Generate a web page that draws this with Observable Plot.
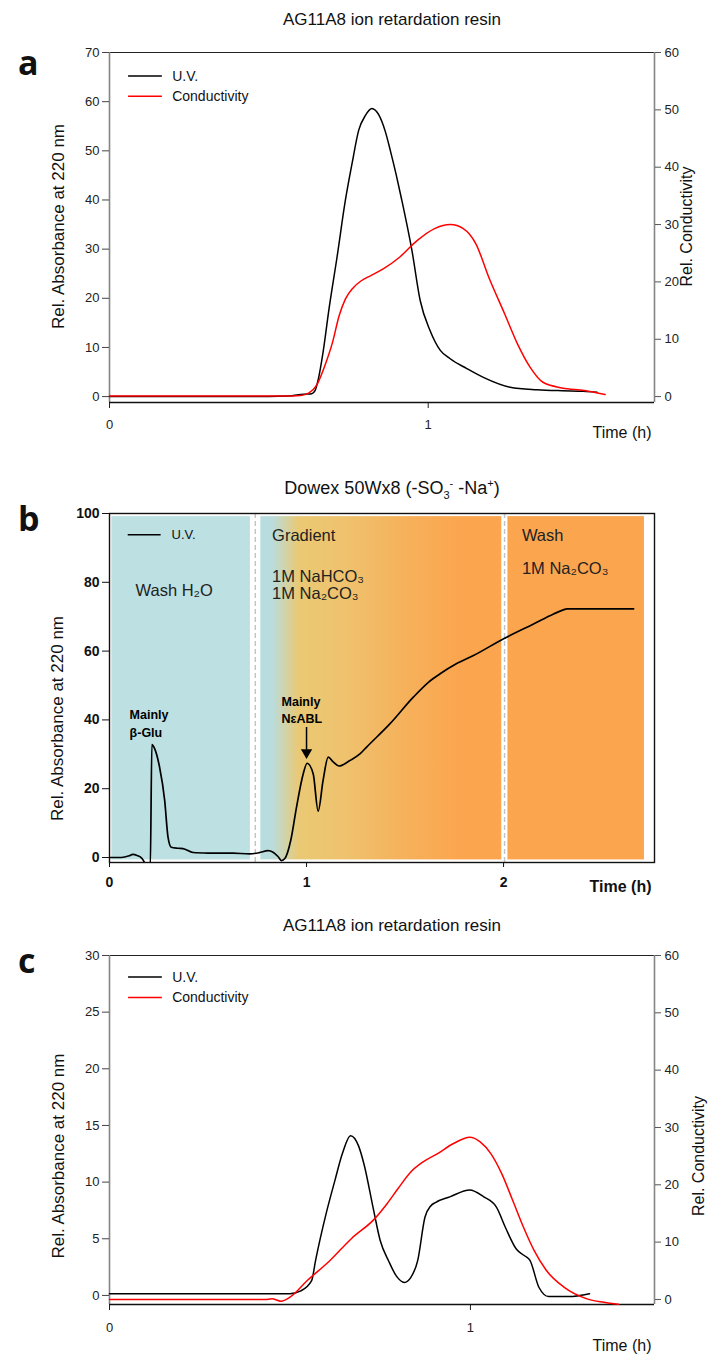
<!DOCTYPE html>
<html><head><meta charset="utf-8">
<script src="https://cdn.jsdelivr.net/npm/d3@7"></script>
<script src="https://cdn.jsdelivr.net/npm/@observablehq/plot@0.6"></script>
<style>
body{margin:0;background:#fff;}
#root{position:relative;width:708px;height:1359px;font-family:"Liberation Sans",Arial,sans-serif;color:#111;overflow:hidden;}
.title{position:absolute;left:392px;transform:translateX(-50%);white-space:nowrap;font-size:17px;line-height:20px;}
.title sub,.title sup{font-size:11px;line-height:0;}
.plab{position:absolute;left:18px;font-family:"Open Sans",sans-serif;font-weight:700;font-size:34px;line-height:34px;}
.panel{position:absolute;left:0;}
</style></head><body>
<div id="root">
  <div class="title" style="top:10px">AG11A8 ion retardation resin</div>
  <div class="plab" style="top:45px">a</div>
  <div id="pa" class="panel" style="top:40px"></div>
  <div class="title" style="top:478px;font-size:18px">Dowex 50Wx8 (-SO<sub>3</sub><sup>-</sup> -Na<sup>+</sup>)</div>
  <div class="plab" style="top:501px">b</div>
  <div id="pb" class="panel" style="top:500px"></div>
  <div class="title" style="top:916px">AG11A8 ion retardation resin</div>
  <div class="plab" style="top:943px">c</div>
  <div id="pc" class="panel" style="top:943px"></div>
</div>
<script>
// ---------- Panel a data ----------
const aTime = [0,0.3,0.5,0.56,0.61,0.635,0.645,0.655,0.67,0.688,0.714,0.74,0.761,0.782,0.803,0.823,0.845,0.865,0.881,0.9,0.917,0.949,0.975,1.006,1.038,1.069,1.121,1.173,1.257,1.341,1.42,1.487,1.53];
const aUV   = [0,0,0,0.1,0.5,0.6,1.2,3.5,9,17.5,28.4,39.9,47.4,54.2,57.2,58.6,57.3,54,50.1,45,40,29.7,19.5,13.4,9.4,7.7,5.7,3.9,1.9,1.4,1.2,1.1,0.9];
const aCondTime = [0,0.3,0.55,0.6,0.625,0.65,0.675,0.7,0.72,0.74,0.765,0.79,0.82,0.86,0.91,0.965,1.02,1.07,1.11,1.15,1.19,1.24,1.28,1.32,1.36,1.42,1.49,1.555];
const aCond     = [0.1,0.1,0.1,0.2,0.6,2,5.3,9.5,14,17,19,20.2,21.1,22.3,24.3,27.2,29.3,30,29.3,26.6,20.8,14.4,9.2,5.1,2.5,1.5,1.05,0.35];
const aLeftTicks = [0,10,20,30,40,50,60,70];
const aRightTicks = [0,10,20,30,40,50,60];
const aTimeTicks = [0,1];

// ---------- Panel b data ----------
const bTime = [0,0.06,0.1,0.118,0.14,0.165,0.178,0.19,0.205,0.207,0.215,0.23,0.254,0.28,0.297,0.313,0.345,0.373,0.424,0.5,0.627,0.712,0.76,0.805,0.83,0.855,0.873,0.89,0.92,0.949,0.983,1.003,1.034,1.059,1.084,1.11,1.135,1.165,1.22,1.271,1.305,1.424,1.542,1.62,1.678,1.76,1.847,2.0,2.152,2.254,2.3,2.322,2.66];
const bUV   = [0,0,0.5,0.9,0.6,-0.3,-1.5,-3,-3,-3,32.8,31.5,26.3,16.6,5.9,3.0,2.7,2.6,1.45,1.3,1.25,1.07,1.4,2.0,1.55,0.3,-0.9,-0.3,5,14.6,24.3,27.4,24.3,13.5,22.4,29.2,27.8,26.6,28.2,30.1,32.1,38.9,46.6,51,53.4,56.3,58.7,63.6,67.9,70.8,71.9,72.3,72.3];
const bYTicks = [0,20,40,60,80,100];
const bTimeTicks = [0,1,2];
const bRegionStart = [0.012,0.768,2.022];
const bRegionEnd   = [0.715,1.991,2.715];
const bRegionFill  = ["#bde0e3","url(#gradB)","#fba64f"];
const bDividers = [0.74,2.005];
const bLabelText = ["Wash H₂O","Gradient","1M NaHCO₃","1M Na₂CO₃","Wash","1M Na₂CO₃"];
const bLabelTime = [0.132,0.825,0.825,0.825,2.093,2.093];
const bLabelValue = [77.6,93.6,81.5,76.6,93.6,83.9];
const bNoteText = ["Mainly","β-Glu","Mainly","NεABL"];
const bNoteTime = [0.102,0.102,0.873,0.873];
const bNoteValue = [41.3,36.1,45.3,40.4];
const bArrowTime = [1.0];
const bArrowFrom = [37.8];
const bArrowTo = [29.2];

// ---------- Panel c data ----------
const cTime = [0,0.3,0.5,0.53,0.56,0.571,0.6,0.625,0.645,0.668,0.69,0.705,0.73,0.75,0.774,0.795,0.817,0.835,0.854,0.874,0.89,0.903,0.943,0.998,1.037,1.072,1.097,1.127,1.15,1.165,1.19,1.217,1.273,1.33];
const cUV   = [0.15,0.15,0.15,0.4,1.3,3.1,7.2,10.2,12.5,14.1,13.2,11.6,7.8,4.85,3.0,1.7,1.15,1.6,3.1,6.9,7.9,8.2,8.7,9.3,8.7,7.8,6.0,4.1,3.5,3.1,0.7,-0.1,-0.1,0.15];
const cCondTime = [0,0.43,0.45,0.475,0.5,0.548,0.611,0.67,0.735,0.769,0.799,0.834,0.869,0.908,0.953,0.998,1.027,1.057,1.087,1.117,1.147,1.176,1.21,1.26,1.323,1.37,1.41];
const cCond     = [0,0,0.1,-0.3,0.4,3.3,6.8,10.6,14.1,16.7,19.3,22.2,24.0,25.4,27.2,28.3,27.5,25.4,21.9,17.3,12.6,8.6,5.1,2.1,0.1,-0.5,-0.85];
const cLeftTicks = [0,5,10,15,20,25,30];
const cRightTicks = [0,10,20,30,40,50,60];
const cTimeTicks = [0,1];

const legendText = ["U.V.","Conductivity"];
const legendColor = ["#000","#ff0000"];

const FONT = "Liberation Sans, Arial, sans-serif";
const zip = (ts, vs, f=(v)=>v) => ts.map((t,i)=>({t, v:f(vs[i])}));

function dualPanel(opts){
  const {time,uv,condTime,cond,toLeft,fromLeft,xmax,ymin,ymax,leftTicks,rightTicks,timeTicks,
         height,marginTop,marginBottom,legendV,yLabelV,rLabelDx,timeDy,tickPad} = opts;
  const legend = legendText.map((s,i)=>({s, v:legendV[i], c:legendColor[i]}));
  return Plot.plot({
    width:708, height, marginTop, marginBottom, marginLeft:109, marginRight:54,
    x:{domain:[0,xmax]}, y:{domain:[ymin,ymax]},
    style:{fontFamily:FONT, fontSize:"13px", color:"#222", background:"transparent", overflow:"visible"},
    marks:[
      Plot.ruleY([ymax],{stroke:"#222",strokeWidth:1}),
      Plot.ruleX([0],{stroke:"#858585",strokeWidth:1.6}),
      Plot.ruleX([xmax],{stroke:"#858585",strokeWidth:1.6}),
      Plot.axisY(leftTicks,{anchor:"left",tickSize:7,tickPadding:3,label:null,stroke:"#444"}),
      Plot.axisY(rightTicks.map(toLeft),{anchor:"right",tickSize:6,tickPadding:4,label:null,stroke:"#555",tickFormat:d=>Math.round(fromLeft(d))}),
      Plot.axisX(timeTicks,{anchor:"bottom",tickSize:6,tickPadding:tickPad,label:null,stroke:"#222",tickFormat:d=>String(d)}),
      Plot.ruleY([ymin],{stroke:"#111",strokeWidth:1.4}),
      Plot.line(zip(time,uv),{x:"t",y:"v",stroke:"#000",strokeWidth:1.5,curve:"monotone-x"}),
      Plot.line(zip(condTime,cond,toLeft),{x:"t",y:"v",stroke:"#ff0000",strokeWidth:1.5,curve:"monotone-x"}),
      Plot.ruleY(legend,{y:"v",x1:xmax*0.035,x2:xmax*0.097,stroke:d=>d.c,strokeWidth:1.5}),
      Plot.text(legend,{y:"v",x:xmax*0.115,text:"s",textAnchor:"start",fontSize:14,fill:"#111"}),
      Plot.text([{s:"Rel. Absorbance at 220 nm",v:yLabelV}],{y:"v",text:"s",frameAnchor:"left",textAnchor:"middle",dx:-51,rotate:-90,fontSize:17,fill:"#111"}),
      Plot.text([{s:"Rel. Conductivity",v:yLabelV}],{y:"v",text:"s",frameAnchor:"right",textAnchor:"middle",dx:rLabelDx,rotate:-90,fontSize:16,fill:"#111"}),
      Plot.text([{s:"Time (h)"}],{text:"s",frameAnchor:"bottom-right",dx:-3,dy:timeDy,textAnchor:"end",fontSize:16,fill:"#111"})
    ]
  });
}

// Panel a
const kA = 70/60;
document.getElementById("pa").append(dualPanel({
  time:aTime, uv:aUV, condTime:aCondTime, cond:aCond,
  toLeft:c=>c*kA, fromLeft:v=>v/kA,
  xmax:1.71, ymin:-1.2, ymax:70, leftTicks:aLeftTicks, rightTicks:aRightTicks, timeTicks:aTimeTicks,
  height:410, marginTop:12, marginBottom:48, legendV:[65.2,61.1], yLabelV:34.6, rLabelDx:32, timeDy:35, tickPad:11
}));

// Panel c
const kC = 30.354/60, oC = -0.354;
document.getElementById("pc").append(dualPanel({
  time:cTime, uv:cUV, condTime:cCondTime, cond:cCond,
  toLeft:c=>c*kC+oC, fromLeft:v=>(v-oC)/kC,
  xmax:1.51, ymin:-0.8, ymax:30, leftTicks:cLeftTicks, rightTicks:cRightTicks, timeTicks:cTimeTicks,
  height:416, marginTop:12, marginBottom:55, legendV:[28.1,26.3], yLabelV:12.3, rLabelDx:44, timeDy:46, tickPad:12
}));

// Panel b
(function(){
  const xmax = 2.766, ymin = -1.45, ymax = 100;
  const regions = bRegionStart.map((s,i)=>({s, e:bRegionEnd[i], f:bRegionFill[i]}));
  const labels = bLabelText.map((s,i)=>({s, t:bLabelTime[i], v:bLabelValue[i]}));
  const notes = bNoteText.map((s,i)=>({s, t:bNoteTime[i], v:bNoteValue[i]}));
  const arrows = bArrowTime.map((t,i)=>({t, a:bArrowFrom[i], b:bArrowTo[i]}));
  const svg = Plot.plot({
    width:708, height:400, marginTop:13, marginBottom:38, marginLeft:109, marginRight:54,
    x:{domain:[0,xmax]}, y:{domain:[ymin,ymax]},
    style:{fontFamily:FONT, fontSize:"14px", color:"#111", background:"transparent", overflow:"visible"},
    marks:[
      ...regions.map(r=>Plot.rect([r],{x1:"s",x2:"e",y1:-0.7,y2:99.1,fill:r.f})),
      Plot.ruleX(bDividers,{stroke:"#c4c4c4",strokeWidth:1.5,strokeDasharray:"5,3"}),
      Plot.frame({stroke:"#111",strokeWidth:1.4}),
      Plot.axisY(bYTicks,{anchor:"left",tickSize:7,tickPadding:3,label:null,fontWeight:"bold",stroke:"#111"}),
      Plot.axisX(bTimeTicks,{anchor:"bottom",tickSize:5,tickPadding:10,label:null,fontWeight:"bold",stroke:"#111",tickFormat:d=>String(d)}),
      Plot.line(zip(bTime,bUV),{x:"t",y:"v",stroke:"#000",strokeWidth:1.7,curve:"monotone-x",clip:true}),
      Plot.ruleY([93.8],{x1:0.095,x2:0.262,stroke:"#000",strokeWidth:1.5}),
      Plot.text([{s:"U.V.",v:93.8}],{y:"v",x:0.315,text:"s",textAnchor:"start",fontSize:13,fill:"#111"}),
      Plot.text(labels,{x:"t",y:"v",text:"s",textAnchor:"start",fontSize:16.5,fill:"#222"}),
      Plot.text(notes,{x:"t",y:"v",text:"s",textAnchor:"start",fontSize:12.5,fontWeight:"bold",fill:"#000"}),
      Plot.ruleX(arrows,{x:"t",y1:"a",y2:d=>d.b+2,stroke:"#000",strokeWidth:1.5}),
      Plot.dot(arrows,{x:"t",y:d=>d.b+1.3,symbol:"triangle",r:4.2,fill:"#000",stroke:null,rotate:180}),
      Plot.text([{s:"Rel. Absorbance at 220 nm",v:40.4}],{y:"v",text:"s",frameAnchor:"left",textAnchor:"middle",dx:-52,rotate:-90,fontSize:17,fill:"#111"}),
      Plot.text([{s:"Time (h)"}],{text:"s",frameAnchor:"bottom-right",dx:-3,dy:29,textAnchor:"end",fontSize:16,fontWeight:"bold",fill:"#111"})
    ]
  });
  const defs = d3.select(svg).insert("defs",":first-child");
  const g = defs.append("linearGradient").attr("id","gradB").attr("x1","0").attr("x2","1").attr("y1","0").attr("y2","0");
  [[0,"#b8dde0"],[0.05,"#b9dcdc"],[0.16,"#eac974"],[0.35,"#efc26e"],[0.6,"#f6b15b"],[0.82,"#fba64f"],[1,"#fba64f"]]
    .forEach(([o,c])=>g.append("stop").attr("offset",o).attr("stop-color",c));
  document.getElementById("pb").append(svg);
})();
</script>
</body></html>
